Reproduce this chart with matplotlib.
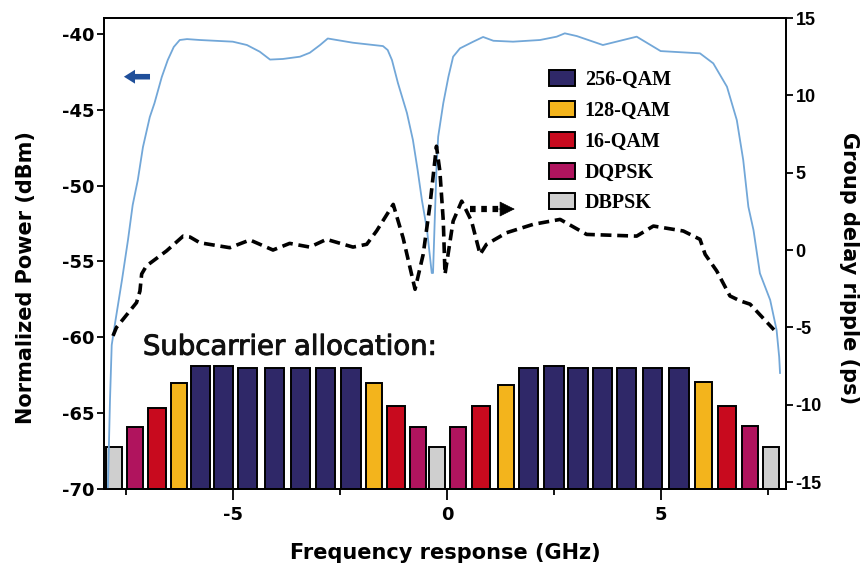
import matplotlib
matplotlib.use("Agg")
import matplotlib.pyplot as plt
import matplotlib.patheffects as pe
from matplotlib.patches import Patch
from matplotlib.ticker import MultipleLocator

# Normalized power response (left axis, dBm)
power_freq = [-7.93, -7.88, -7.84, -7.75, -7.60, -7.46, -7.35, -7.23, -7.11, -6.95,
              -6.84, -6.67, -6.53, -6.39, -6.25, -6.08, -5.78, -5.01, -4.68, -4.38,
              -4.14, -3.84, -3.44, -3.21, -2.97, -2.79, -2.20, -1.50, -1.39, -1.29,
              -1.15, -0.94, -0.80, -0.69, -0.59, -0.47, -0.36, -0.33, -0.29, -0.25,
              -0.21, -0.09, 0.03, 0.14, 0.30, 0.61, 0.84, 1.08, 1.54, 2.17,
              2.56, 2.75, 3.03, 3.64, 4.43, 4.99, 5.91, 6.22, 6.54, 6.77,
              6.92, 7.04, 7.16, 7.31, 7.55, 7.70, 7.76, 7.78]
power_dbm = [-70.0, -64.13, -60.51, -58.86, -56.22, -53.59, -51.28, -49.63, -47.46, -45.48,
             -44.56, -42.84, -41.72, -40.86, -40.40, -40.34, -40.40, -40.51, -40.73, -41.17,
             -41.69, -41.65, -41.50, -41.24, -40.73, -40.30, -40.58, -40.80, -41.06, -41.72,
             -43.24, -45.21, -46.99, -48.97, -50.95, -52.93, -55.76, -55.76, -52.27, -48.97,
             -46.78, -44.56, -42.82, -41.50, -40.95, -40.51, -40.20, -40.45, -40.51, -40.40,
             -40.18, -39.96, -40.14, -40.73, -40.18, -41.13, -41.28, -41.94, -43.48, -45.68,
             -48.31, -51.39, -52.93, -55.78, -57.54, -59.52, -61.28, -62.35]

# Group delay ripple (right axis, ps)
delay_freq = [-7.81, -7.73, -7.26, -7.18, -7.14, -7.03, -6.56, -6.17, -6.01, -5.78,
              -5.08, -4.61, -4.07, -3.68, -3.21, -2.82, -2.20, -1.88, -1.65, -1.26,
              -1.03, -0.75, -0.56, -0.40, -0.25, -0.17, -0.09, -0.05, 0.14, 0.34,
              0.57, 0.77, 0.92, 1.39, 2.01, 2.64, 3.26, 4.43, 4.82, 5.52,
              5.91, 6.03, 6.30, 6.61, 6.85, 7.08, 7.64]
delay_ps = [-5.55, -5.01, -3.40, -2.65, -1.55, -1.03, -0.06, 0.90, 0.84, 0.47,
            0.15, 0.65, 0.00, 0.43, 0.19, 0.69, 0.19, 0.37, 1.23, 2.95,
            0.79, -2.54, -0.28, 2.95, 6.71, 5.10, 1.87, -1.57, 1.87, 3.16,
            1.87, -0.28, 0.37, 1.12, 1.66, 1.98, 1.01, 0.90, 1.55, 1.23,
            0.69, -0.28, -1.35, -2.97, -3.29, -3.50, -5.16]

# Subcarrier allocation
sub_freq = [-7.78, -7.30, -6.79, -6.27, -5.77, -5.23, -4.67, -4.03, -3.42, -2.85,
            -2.25, -1.71, -1.19, -0.68, -0.23, 0.25, 0.80, 1.37, 1.91, 2.50,
            3.06, 3.63, 4.20, 4.80, 5.42, 5.99, 6.55, 7.07, 7.56]
sub_level = [-67.25, -65.90, -64.64, -63.00, -61.90, -61.90, -62.04, -62.04, -62.04, -62.04,
             -62.04, -63.00, -64.50, -65.90, -67.25, -65.90, -64.50, -63.13, -62.00, -61.87,
             -62.00, -62.00, -62.00, -62.00, -62.00, -62.97, -64.50, -65.85, -67.20]
sub_format = ["DBPSK", "DQPSK", "16-QAM", "128-QAM", "256-QAM", "256-QAM", "256-QAM",
              "256-QAM", "256-QAM", "256-QAM", "256-QAM", "128-QAM", "16-QAM", "DQPSK",
              "DBPSK", "DQPSK", "16-QAM", "128-QAM", "256-QAM", "256-QAM", "256-QAM",
              "256-QAM", "256-QAM", "256-QAM", "256-QAM", "128-QAM", "16-QAM", "DQPSK",
              "DBPSK"]
formats = ["256-QAM", "128-QAM", "16-QAM", "DQPSK", "DBPSK"]

fmt_color = {"256-QAM": "#2f2868", "128-QAM": "#f3b41c", "16-QAM": "#c80a1e",
             "DQPSK": "#b0145e", "DBPSK": "#cfcfcf"}
fmt_width = {"256-QAM": 0.45, "128-QAM": 0.38, "16-QAM": 0.42,
             "DQPSK": 0.37, "DBPSK": 0.37}

plt.rcParams["font.family"] = ["DejaVu Sans"]
plt.rcParams["axes.unicode_minus"] = False

fig = plt.figure(figsize=(8.61, 5.70), dpi=100)
ax = fig.add_axes([0.1208, 0.1421, 0.7921, 0.8263])
ax2 = ax.twinx()

ax.set_xlim(-8.02, 7.92)
ax.set_ylim(-70, -38.95)
ax2.set_ylim(-15.45, 15.0)

# subcarrier bars
for f, lvl, m in zip(sub_freq, sub_level, sub_format):
    ax.bar(f, lvl - (-70), bottom=-70, width=fmt_width[m], color=fmt_color[m],
           edgecolor="black", linewidth=1.4, zorder=2)

# power response
ax.plot(power_freq, power_dbm, color="#72a7d8", lw=1.3, zorder=3)

# group delay ripple
ax2.plot(delay_freq, delay_ps, color="black", lw=2.6, ls=(0, (3.0, 1.6)), zorder=3)

# axis direction arrows
ax.annotate("", xy=(-7.62, -42.82), xytext=(-6.88, -42.82),
            arrowprops=dict(arrowstyle="simple,head_length=0.8,head_width=1.0,tail_width=0.4",
                            color="#1f4f9a", lw=0), zorder=4)
ax2.plot([0.53, 1.25], [2.65, 2.65], color="black", lw=4.5, ls=(0, (0.9, 0.9)),
         solid_capstyle="butt", dash_capstyle="butt", zorder=4)
ax2.annotate("", xy=(1.58, 2.65), xytext=(1.20, 2.65),
             arrowprops=dict(arrowstyle="-|>,head_length=1.0,head_width=0.5",
                             color="black", lw=0.5, shrinkA=0, shrinkB=0), zorder=4)

ax.text(-7.11, -61.15, "Subcarrier allocation:", fontsize=19.8, color="#111111",
        ha="left", va="baseline", zorder=5,
        path_effects=[pe.withStroke(linewidth=0.7, foreground="#111111")])

# legend
handles = [Patch(facecolor=fmt_color[m], edgecolor="black", linewidth=1.4, label=m)
           for m in formats]
leg = ax.legend(handles=handles, loc="upper left", bbox_to_anchor=(0.64, 0.907),
                frameon=False, handlelength=1.3, handleheight=0.85, handletextpad=0.5,
                labelspacing=0.54, borderaxespad=0,
                prop={"family": "Liberation Serif", "weight": "bold", "size": 14.5})

# ticks and labels
ax.xaxis.set_major_locator(MultipleLocator(5))
ax.xaxis.set_minor_locator(MultipleLocator(2.5))
ax.yaxis.set_major_locator(MultipleLocator(5))
ax2.yaxis.set_major_locator(MultipleLocator(5))
ax.tick_params(axis="x", which="major", direction="out", length=8, width=1.3, pad=4)
ax.tick_params(axis="x", which="minor", direction="out", length=4, width=1.3)
ax.tick_params(axis="y", which="major", direction="out", length=5, width=1.3, pad=2)
ax2.tick_params(axis="y", which="major", direction="out", length=5, width=1.3, pad=2)
for lab in ax.get_xticklabels() + ax.get_yticklabels():
    lab.set_fontweight("bold")
    lab.set_fontsize(13)
for lab in ax2.get_yticklabels():
    lab.set_fontweight("bold")
    lab.set_fontsize(13)
    lab.set_fontfamily("Liberation Sans")

for sp in list(ax.spines.values()) + list(ax2.spines.values()):
    sp.set_linewidth(1.3)

ax.set_xlabel("Frequency response (GHz)", fontsize=15, fontweight="bold", labelpad=14)
ax.set_ylabel("Normalized Power (dBm)", fontsize=15, fontweight="bold")
ax2.set_ylabel("Group delay ripple (ps)", fontsize=15, fontweight="bold", rotation=270)
ax.yaxis.set_label_coords(-0.115, 0.448)
ax2.yaxis.set_label_coords(1.092, 0.47)
ax2.yaxis.label.set_va("center")
ax.yaxis.label.set_va("center")

fig.savefig("out.png", dpi=100)
